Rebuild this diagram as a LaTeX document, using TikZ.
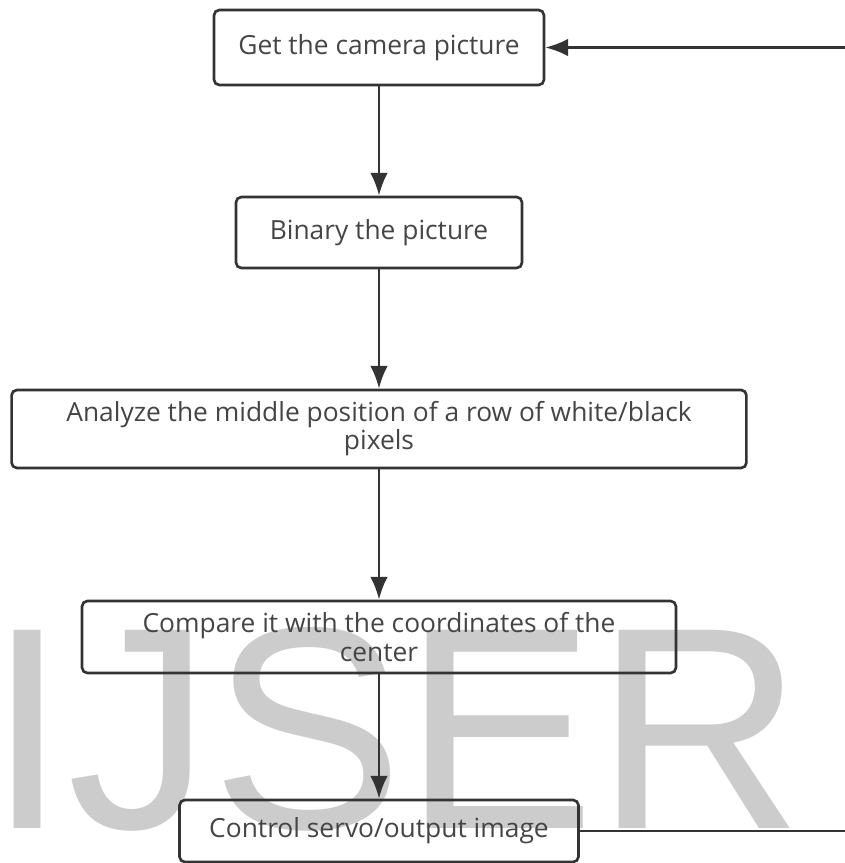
\documentclass[tikz,border=0pt]{standalone}
\usepackage{fontspec}
\setmainfont{Open Sans}
\newfontfamily\marcafont{Liberation Sans}
\usetikzlibrary{arrows.meta}
\definecolor{borde}{HTML}{333333}
\definecolor{texto}{HTML}{454545}
\definecolor{marca}{HTML}{CCCCCC}
\tikzset{
    caja/.style={draw=borde, line width=1.5pt, rounded corners=3pt, text=texto,
        align=center, font=\fontsize{15}{16}\selectfont, inner sep=0pt},
    flecha/.style={draw=borde, line width=1.5pt, -{Latex[length=13pt,width=10pt]}}
}

\begin{document}
\begin{tikzpicture}[x=0.02cm, y=-0.02cm]
        \useasboundingbox (0,0) rectangle (845,863);
        % Marca de agua
        \node[anchor=base west, inner sep=0pt, text=marca, font=\marcafont\fontsize{164}{164}\selectfont] (wm) at (-13,828) {IJSER};
        % Cajas
        \node[caja, minimum width=6.6cm, minimum height=1.5cm] (cam) at (379,47.5) {Get the camera picture};
        \node[caja, minimum width=5.72cm, minimum height=1.42cm] (bin) at (379,232.5) {Binary the picture};
        \node[caja, minimum width=14.7cm, minimum height=1.56cm] (ana) at (379,429) {Analyze the middle position of a row of white/black\\pixels};
        \node[caja, minimum width=11.88cm, minimum height=1.44cm] (cmp) at (379,637) {Compare it with the coordinates of the\\center};
        \node[caja, minimum width=7.98cm, minimum height=1.24cm] (ctl) at (379,831) {Control servo/output image};
        \coordinate (lado) at (848,0);
        % Flechas
        \draw[flecha] (cam) -- (bin);
        \draw[flecha] (bin) -- (ana);
        \draw[flecha] (ana) -- (cmp);
        \draw[flecha] (cmp) -- (ctl);
        \draw[flecha] (ctl.east) -- (ctl.east -| lado) -- (cam.east -| lado) -- (cam.east);
    \end{tikzpicture}
\end{document}
